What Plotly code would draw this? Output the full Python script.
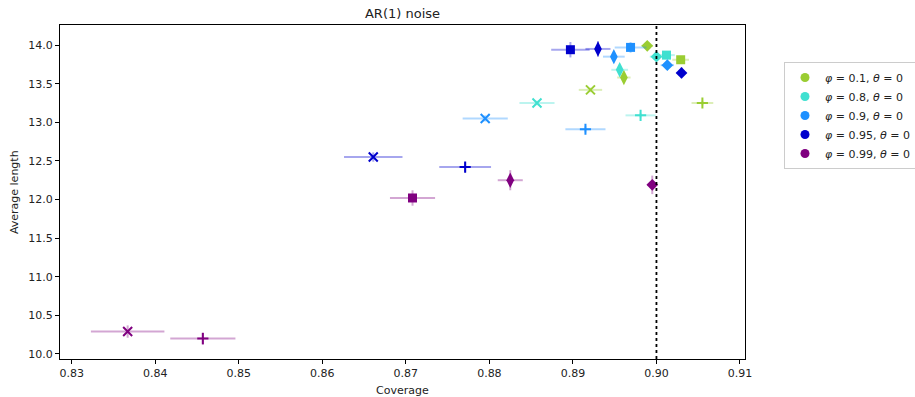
import plotly.graph_objects as go

# ---- data ----
phis = ["0.1", "0.8", "0.9", "0.95", "0.99"]
colors = ["#9ACD32", "#40E0D0", "#1E90FF", "#0000CD", "#800080"]
err_colors = ["rgba(154,205,50,0.35)", "rgba(64,224,208,0.35)", "rgba(30,144,255,0.35)",
              "rgba(0,0,205,0.35)", "rgba(128,0,128,0.35)"]
symbols = ["x-thin-open", "cross-thin-open", "square", "diamond-tall", "diamond"]
sizes = [9, 8, 9, 11, 9]

cov_01 = [0.8921, 0.9055, 0.9029, 0.8961, 0.8989]
cov_08 = [0.8857, 0.8981, 0.9012, 0.8956, 0.9000]
cov_09 = [0.8795, 0.8915, 0.8969, 0.8949, 0.9013]
cov_095 = [0.8661, 0.8771, 0.8897, 0.8930, 0.9030]
cov_099 = [0.8367, 0.8457, 0.8708, 0.8825, 0.8995]

len_01 = [13.42, 13.25, 13.81, 13.58, 13.99]
len_08 = [13.25, 13.09, 13.87, 13.68, 13.85]
len_09 = [13.05, 12.91, 13.97, 13.85, 13.74]
len_095 = [12.55, 12.42, 13.94, 13.95, 13.64]
len_099 = [10.29, 10.20, 12.02, 12.25, 12.19]

xerr_01 = [0.0014, 0.0013, 0.0010, 0.0008, 0.0007]
xerr_08 = [0.0021, 0.0018, 0.0010, 0.0010, 0.0008]
xerr_09 = [0.0027, 0.0024, 0.0019, 0.0013, 0.0008]
xerr_095 = [0.0035, 0.0031, 0.0023, 0.0015, 0.0006]
xerr_099 = [0.0044, 0.0039, 0.0027, 0.0015, 0.0006]

yerr_01 = [0.03, 0.03, 0.03, 0.05, 0.03]
yerr_08 = [0.03, 0.03, 0.05, 0.05, 0.04]
yerr_09 = [0.04, 0.04, 0.07, 0.06, 0.05]
yerr_095 = [0.06, 0.06, 0.10, 0.10, 0.07]
yerr_099 = [0.08, 0.08, 0.10, 0.13, 0.12]

target_coverage = 0.9

x_ticks = [0.83, 0.84, 0.85, 0.86, 0.87, 0.88, 0.89, 0.90, 0.91]
x_ticktext = ["0.83", "0.84", "0.85", "0.86", "0.87", "0.88", "0.89", "0.90", "0.91"]
y_ticks = [10.0, 10.5, 11.0, 11.5, 12.0, 12.5, 13.0, 13.5, 14.0]
y_ticktext = ["10.0", "10.5", "11.0", "11.5", "12.0", "12.5", "13.0", "13.5", "14.0"]

covs = [cov_01, cov_08, cov_09, cov_095, cov_099]
lens = [len_01, len_08, len_09, len_095, len_099]
xerrs = [xerr_01, xerr_08, xerr_09, xerr_095, xerr_099]
yerrs = [yerr_01, yerr_08, yerr_09, yerr_095, yerr_099]

fig = go.Figure()
for i, phi in enumerate(phis):
    for j in range(len(symbols)):
        open_sym = symbols[j].endswith("open")
        fig.add_trace(go.Scatter(
            x=[covs[i][j]], y=[lens[i][j]], mode="markers", showlegend=False,
            marker=dict(symbol=symbols[j], size=sizes[j], color=colors[i],
                        line=dict(width=2 if open_sym else 0, color=colors[i])),
            error_x=dict(type="data", array=[xerrs[i][j]], color=err_colors[i], thickness=2, width=0),
            error_y=dict(type="data", array=[yerrs[i][j]], color=err_colors[i], thickness=2, width=0),
        ))
for i, phi in enumerate(phis):
    fig.add_trace(go.Scatter(
        x=[None], y=[None], mode="markers",
        marker=dict(symbol="circle", size=9, color=colors[i]),
        name=f"<i>φ</i> = {phi}, <i>θ</i> = 0",
    ))

fig.add_shape(type="line", xref="x", yref="paper", x0=target_coverage, x1=target_coverage,
              y0=0, y1=1, line=dict(color="black", width=1.8, dash="dot"))

axis_common = dict(showline=True, linecolor="black", linewidth=1, mirror=True,
                   ticks="outside", ticklen=4, tickcolor="black", showgrid=False,
                   zeroline=False, automargin=False, tickfont=dict(size=11, color="#222"))

fig.add_annotation(text="Coverage", xref="paper", yref="paper", x=0.5, y=-0.093,
                   xanchor="center", yanchor="middle", showarrow=False,
                   font=dict(size=11, color="#222"))
fig.add_annotation(text="Average length", xref="paper", yref="paper", x=-0.067, y=0.5,
                   xanchor="center", yanchor="middle", showarrow=False, textangle=-90,
                   font=dict(size=11, color="#222"))

fig.update_layout(
    width=915, height=397,
    margin=dict(l=60, r=170, t=25, b=38, autoexpand=False),
    plot_bgcolor="white", paper_bgcolor="white",
    font=dict(family="DejaVu Sans", size=11, color="#222"),
    title=dict(text="AR(1) noise", x=(60 + 745) / 2 / 915, xanchor="center",
               y=1 - 13 / 397, yanchor="middle", font=dict(size=13, color="#222")),
    xaxis=dict(range=[0.8286, 0.9106], tickvals=x_ticks, ticktext=x_ticktext, **axis_common),
    yaxis=dict(range=[9.935, 14.26], tickvals=y_ticks, ticktext=y_ticktext, **axis_common),
    legend=dict(xref="container", yref="container", x=784 / 915, y=1 - 62 / 397,
                xanchor="left", yanchor="top", bordercolor="#ccc",
                borderwidth=1, bgcolor="white", font=dict(size=11), itemwidth=30,
                tracegroupgap=2),
)

fig.write_html("out.html")
